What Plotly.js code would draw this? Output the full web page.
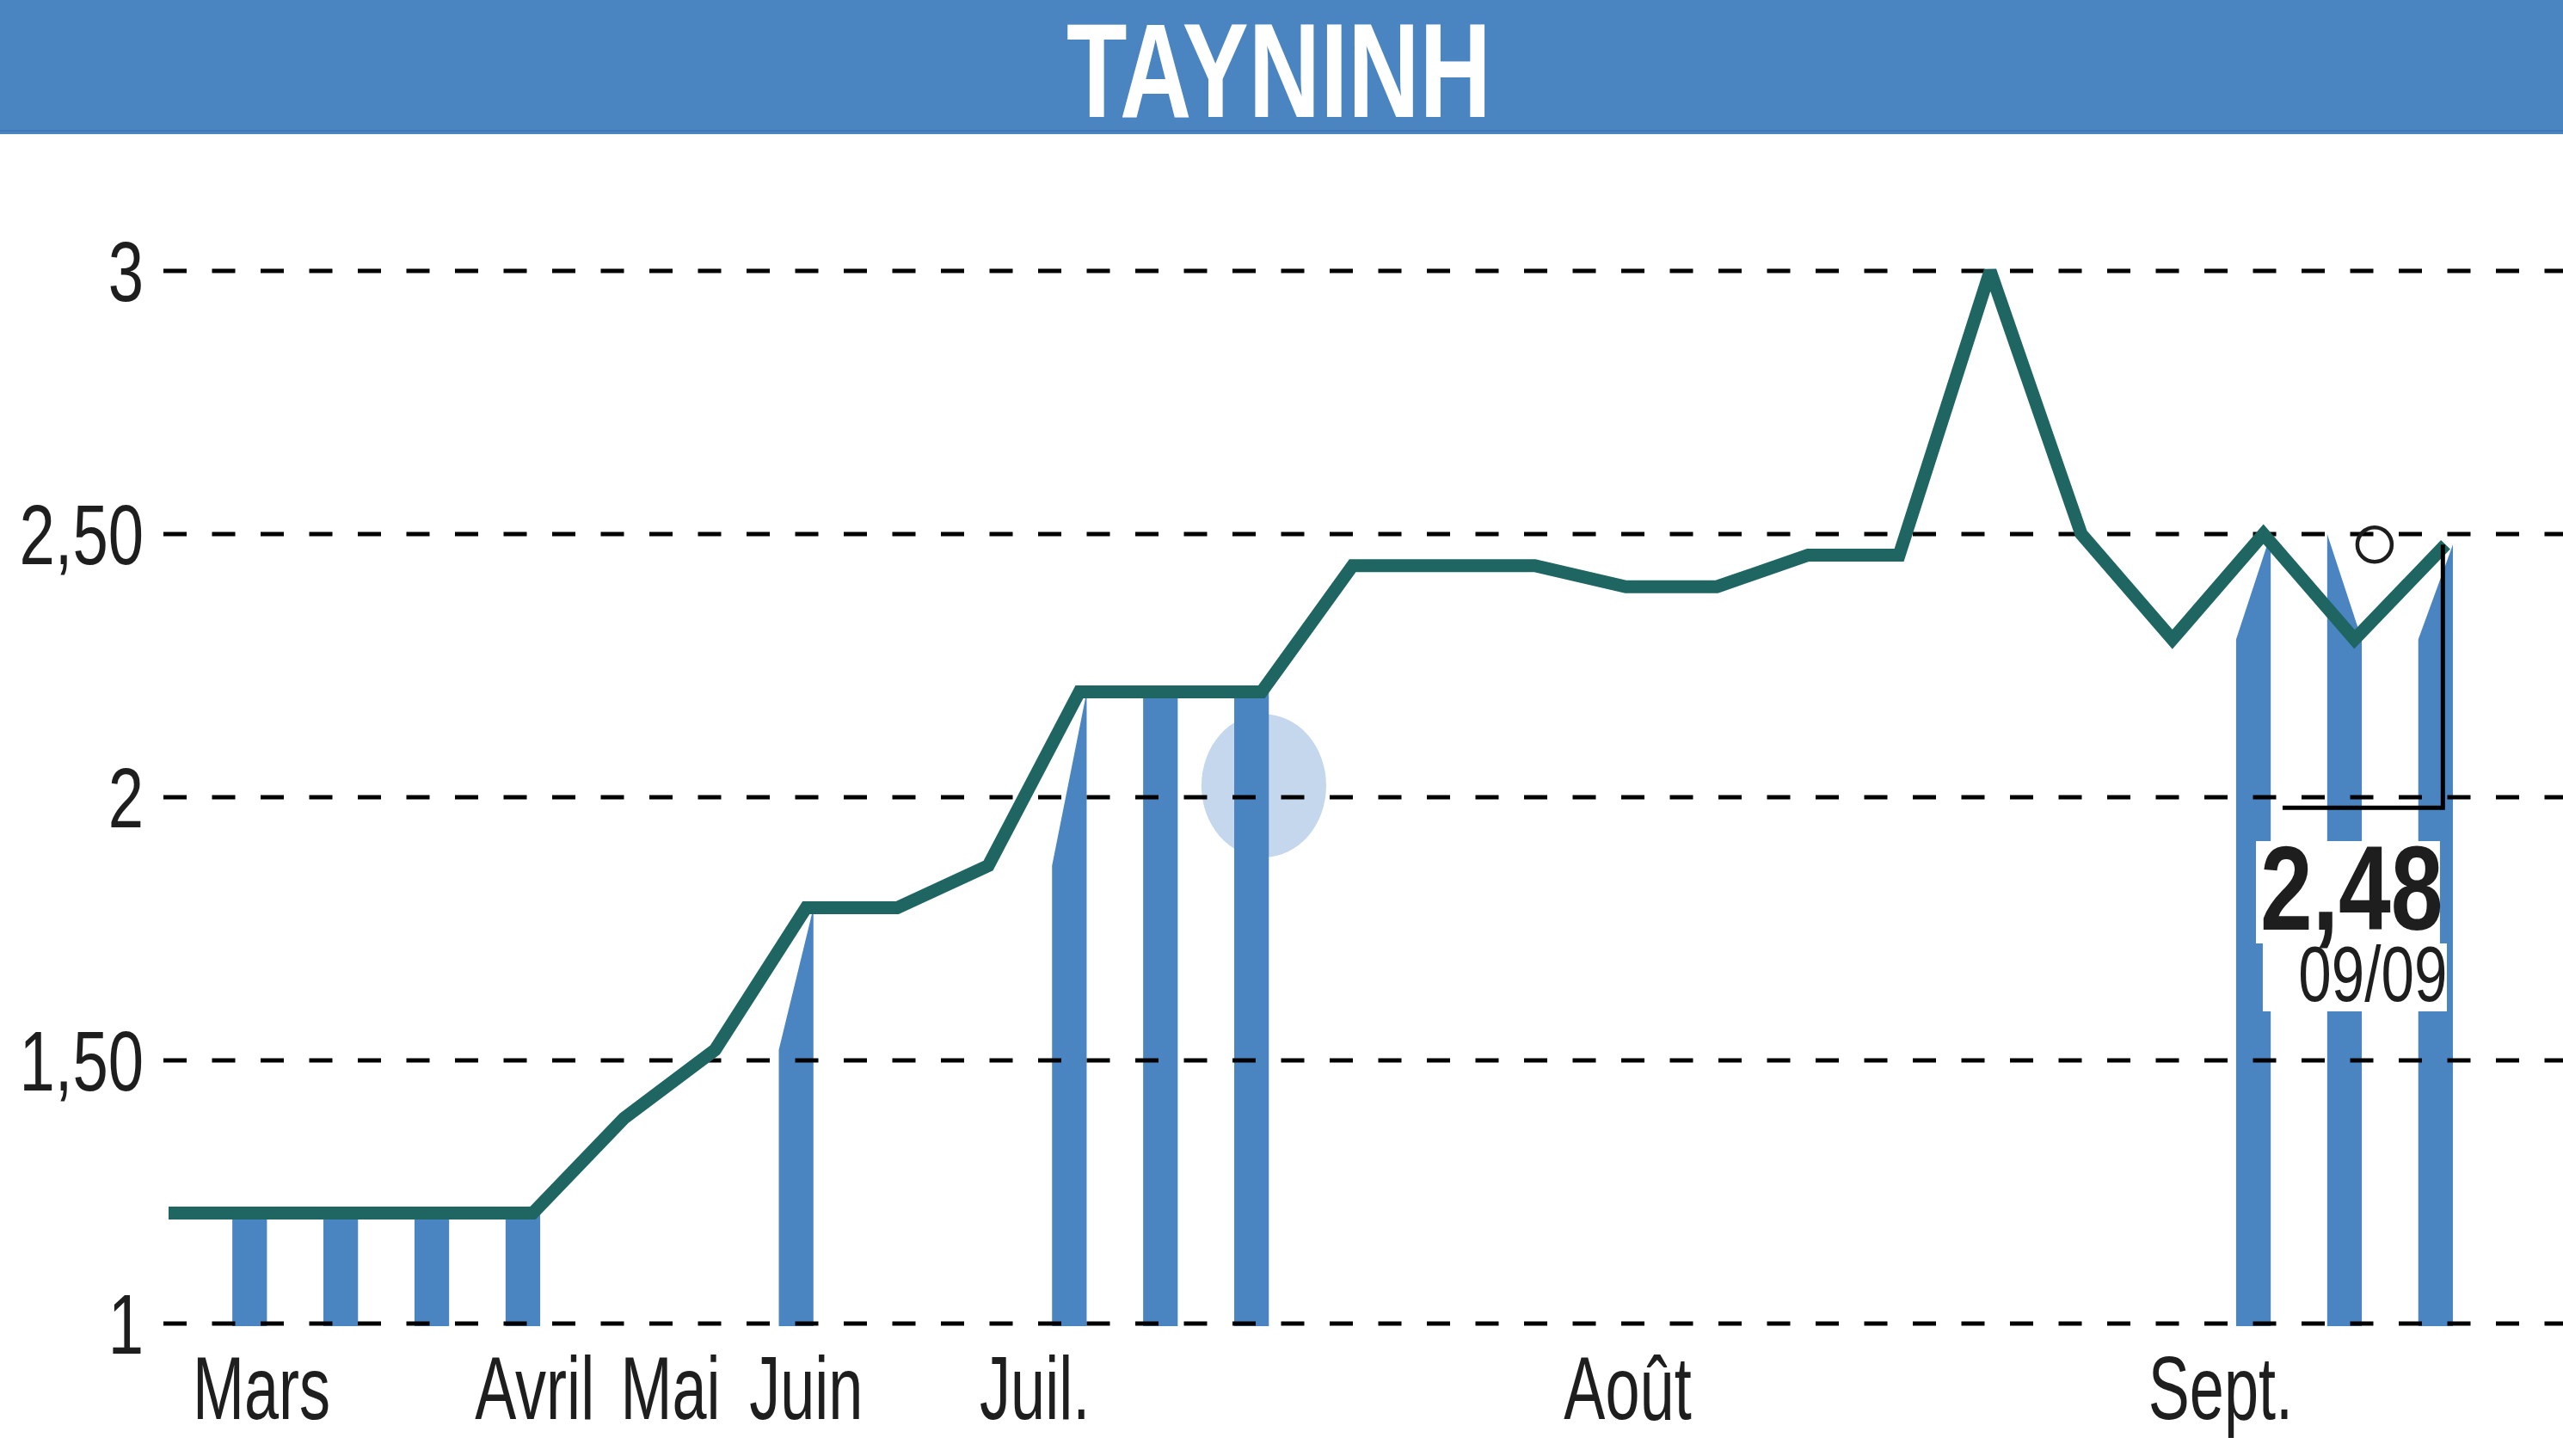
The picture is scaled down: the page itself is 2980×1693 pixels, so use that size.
<!DOCTYPE html>
<html><head><meta charset="utf-8">
<script src="https://cdn.plot.ly/plotly-3.0.1.min.js"></script>
<style>html,body{margin:0;padding:0;background:#fff;} #chart{width:2980px;height:1693px;}</style>
</head><body><div id="chart"></div>
<script>
// ---- data ----
const chartTitle = 'TAYNINH';
const weekIdx = [0,1,2,3,4,5,6,7,8,9,10,11,12,13,14,15,16,17,18,19,20,21,22,23,24,25];
const prices  = [1.21,1.21,1.21,1.21,1.21,1.39,1.52,1.79,1.79,1.87,2.20,2.20,2.20,2.44,2.44,2.44,2.40,2.40,2.46,2.46,3.00,2.50,2.30,2.50,2.30,2.48];
const tradeIdx = [1,2,3,4,7,10,11,12,23,24,25];
const monthLabels = ['Mars','Avril','Mai','Juin','Juil.','Août','Sept.'];
const monthPos    = [1.02,4.02,5.51,7.00,9.51,16.02,22.53];
const yTickVals = [1,1.5,2,2.5,3];
const yTickText = ['1','1,50','2','2,50','3'];
const lastDate = '09/09';

// ---- style / geometry ----
const FONT = "'Liberation Sans',Arial,sans-serif";
const BLUE = '#4a85c2', TEAL = '#1f6663', INK = '#1e1e1e';
const X0 = -0.0567, X1 = 26.289, Y0 = 0.9951, Y1 = 3.2533;
const BAR_L = -0.30, BAR_R = 0.08;

const bx = [], by = [];
tradeIdx.forEach(i => {
  const x = weekIdx[i];
  const cur = prices[i], prev = prices[Math.max(i - 1, 0)];
  bx.push(x + BAR_L, x + BAR_L, x + BAR_R, x + BAR_R, x + BAR_L, null);
  by.push(Y0, prev, cur, Y0, Y0, null);
});

const gx = [], gy = [];
yTickVals.forEach(v => { gx.push(X0, X1, null); gy.push(v, v, null); });

const last = prices.length - 1;
const lx = weekIdx[last], ly = prices[last];
const lastText = ly.toFixed(2).replace('.', ',');

const traces = [
  {x: bx, y: by, mode: 'lines', fill: 'toself', fillcolor: BLUE, line: {width: 0, color: BLUE}, hoverinfo: 'skip'},
  {x: gx, y: gy, mode: 'lines', line: {color: '#000', width: 5, dash: '27px,29.5px'}, hoverinfo: 'skip'},
  {x: weekIdx, y: prices, mode: 'lines', line: {color: TEAL, width: 15}},
  {x: [lx - 1.79, lx - 0.03, lx - 0.03], y: [1.98, 1.98, ly], mode: 'lines', line: {color: '#000', width: 5}, hoverinfo: 'skip'},
  {x: [lx - 0.78], y: [ly], mode: 'markers', marker: {symbol: 'circle-open', size: 40, color: INK, line: {width: 4.5, color: INK}}, cliponaxis: false}
];

const layout = {
  width: 2980, height: 1693,
  margin: {l: 190, r: 0, t: 160, b: 151, pad: 0},
  paper_bgcolor: '#fff', plot_bgcolor: '#fff',
  showlegend: false,
  title: {text: '<b>' + chartTitle + '</b>', font: {family: FONT, size: 156, color: '#fff'},
          x: 0.499, xref: 'container', xanchor: 'center', y: 1 - 81/1693, yref: 'container', yanchor: 'middle'},
  xaxis: {range: [X0, X1], showgrid: false, zeroline: false, showline: false, ticks: '', tickangle: 0,
          tickmode: 'array', tickvals: monthPos, ticktext: monthLabels,
          tickfont: {family: FONT, size: 103, color: INK}, ticklabelstandoff: 4, automargin: false, fixedrange: true},
  yaxis: {range: [Y0, Y1], showgrid: false, zeroline: false, showline: false, ticks: '',
          tickmode: 'array', tickvals: yTickVals, ticktext: yTickText,
          tickfont: {family: FONT, size: 99, color: INK}, ticklabelstandoff: 22, automargin: false, fixedrange: true},
  shapes: [
    {type: 'rect', xref: 'paper', yref: 'paper', x0: -0.1, x1: 1.1, y0: 1.0029, y1: 1.2, fillcolor: BLUE, line: {width: 0}, layer: 'below'},
    {type: 'line', xref: 'paper', yref: 'paper', x0: -0.1, x1: 1.1, y0: 1.0058, y1: 1.0058, line: {color: '#3f78b2', width: 2}, layer: 'below'},
    {type: 'circle', xref: 'x', yref: 'y', x0: 11.34, x1: 12.71, y0: 1.886, y1: 2.158, fillcolor: '#c5d7ec', line: {width: 0}, layer: 'below'},
    {type: 'rect', xref: 'x', yref: 'y', x0: lx - 2.082, x1: lx - 0.062, y0: 1.7222, y1: 1.9167, fillcolor: '#fff', line: {width: 0}, layer: 'above'},
    {type: 'rect', xref: 'x', yref: 'y', x0: lx - 2.007, x1: lx + 0.014, y0: 1.5931, y1: 1.7222, fillcolor: '#fff', line: {width: 0}, layer: 'above'}
  ],
  annotations: [
    {x: lx - 1.03, y: 1.827, xref: 'x', yref: 'y', text: '<b>' + lastText + '</b>', showarrow: false,
     font: {family: FONT, size: 140, color: INK}, borderpad: 0, xanchor: 'center', yanchor: 'middle'},
    {x: lx - 0.80, y: 1.664, xref: 'x', yref: 'y', text: lastDate, showarrow: false,
     font: {family: FONT, size: 91, color: INK}, borderpad: 0, xanchor: 'center', yanchor: 'middle'}
  ]
};

// condense text horizontally around its anchor (the reference uses a condensed face)
function squeezeEl(t, sx, anchor) {
  const bb = t.getBBox();
  const a = anchor === 'end' ? bb.x + bb.width : bb.x + bb.width / 2;
  const tr = t.getAttribute('transform') || '';
  t.setAttribute('transform', tr + ' translate(' + a + ',0) scale(' + sx + ',1) translate(' + (-a) + ',0)');
}
function squeeze(sel, sx, anchor) {
  document.querySelectorAll(sel).forEach(t => squeezeEl(t, sx, anchor));
}

Plotly.newPlot('chart', traces, layout, {staticPlot: true, displayModeBar: false}).then(() => {
  squeeze('.xtick text', 0.70, 'middle');
  squeeze('.ytick text', 0.75, 'end');
  squeeze('.gtitle', 0.74, 'middle');
  const ann = document.querySelectorAll('.annotation-text');
  if (ann[0]) squeezeEl(ann[0], 0.78, 'middle');
  if (ann[1]) squeezeEl(ann[1], 0.76, 'middle');
});
</script>
</body></html>
